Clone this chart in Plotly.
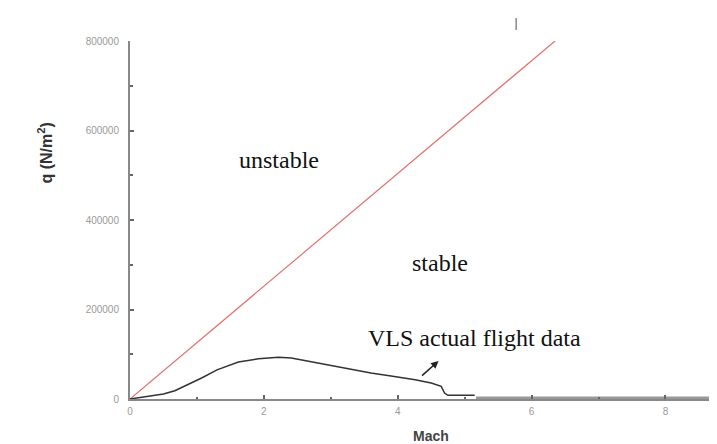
import plotly.graph_objects as go

# Stability boundary (red line)
limit_mach = [0, 6.35]
limit_q = [0, 800000]

# VLS actual flight data (black curve)
flight_mach = [0, 0.32, 0.5, 0.67, 0.92, 1.07, 1.3, 1.62, 1.92, 2.22, 2.41, 2.62,
               3.11, 3.6, 3.9, 4.26, 4.5, 4.65, 4.70, 4.75, 5.15]
flight_q = [0, 6000, 11000, 18500, 35800, 47000, 65000, 82700, 90000, 93200, 91600,
            85600, 71500, 58100, 51400, 43100, 35800, 28400, 13400, 8300, 8300]

# Later flight data (dense band near zero)
tail_mach = [5.17, 8.66]
tail_q = [1200, 1200]

x_ticks = [0, 2, 4, 6, 8]
y_ticks = [0, 200000, 400000, 600000, 800000]

fig = go.Figure()
fig.add_trace(go.Scatter(x=limit_mach, y=limit_q, mode="lines",
                         line=dict(color="#e27070", width=1.2), showlegend=False))
fig.add_trace(go.Scatter(x=flight_mach, y=flight_q, mode="lines",
                         line=dict(color="#333333", width=1.5), showlegend=False))
fig.add_trace(go.Scatter(x=tail_mach, y=tail_q, mode="lines",
                         line=dict(color="#999999", width=4), showlegend=False))

serif = "Liberation Serif, Times New Roman, serif"
fig.add_annotation(x=2.22, y=534000, text="unstable", showarrow=False,
                   font=dict(family=serif, size=24, color="#111"))
fig.add_annotation(x=4.63, y=304000, text="stable", showarrow=False,
                   font=dict(family=serif, size=24, color="#111"))
fig.add_annotation(x=5.15, y=136000, text="VLS actual flight data", showarrow=False,
                   font=dict(family=serif, size=24, color="#111"))
fig.add_annotation(x=4.61, y=85000, ax=-18, ay=16, text="", showarrow=True,
                   arrowhead=2, arrowsize=1, arrowwidth=1.5, arrowcolor="#222")

sans = "Arial, Liberation Sans, sans-serif"
fig.add_annotation(xref="paper", yref="paper", x=-0.142, y=0.687,
                   xanchor="center", yanchor="middle",
                   text="<b>q (N/m<sup>2</sup>)</b>", textangle=-90, showarrow=False,
                   font=dict(family=sans, size=16, color="#333"))
fig.add_annotation(xref="paper", yref="paper", x=0.506, y=-0.104,
                   xanchor="center", yanchor="middle",
                   text="<b>Mach</b>", showarrow=False,
                   font=dict(family=sans, size=14, color="#444"))

fig.add_shape(type="line", xref="paper", yref="paper", x0=0.649, x1=0.649, y0=1.031, y1=1.064,
              line=dict(color="#888", width=1.5))

fig.update_xaxes(range=[0, 8.89], tickvals=x_ticks, ticktext=[str(v) for v in x_ticks],
                 showgrid=False, zeroline=False, showline=True, linecolor="#888", linewidth=2,
                 ticks="inside", ticklen=4, tickcolor="#666", tickwidth=1.5,
                 minor=dict(dtick=1, ticks="inside", ticklen=2, tickcolor="#666"),
                 ticklabelstandoff=2,
                 tickfont=dict(family=sans, size=10, color="#999"))
fig.update_yaxes(range=[0, 800000], tickvals=y_ticks, ticktext=[str(v) for v in y_ticks],
                 showgrid=False, zeroline=False, showline=True, linecolor="#888", linewidth=2,
                 ticks="inside", ticklen=4, tickcolor="#666", tickwidth=1.5,
                 minor=dict(dtick=100000, ticks="inside", ticklen=3, tickcolor="#666"),
                 ticklabelstandoff=7,
                 tickfont=dict(family=sans, size=10, color="#999"))

fig.update_layout(width=717, height=444, plot_bgcolor="white", paper_bgcolor="white",
                  margin=dict(l=121.5, r=0, t=33, b=53), showlegend=False)

fig.write_html("out.html")
